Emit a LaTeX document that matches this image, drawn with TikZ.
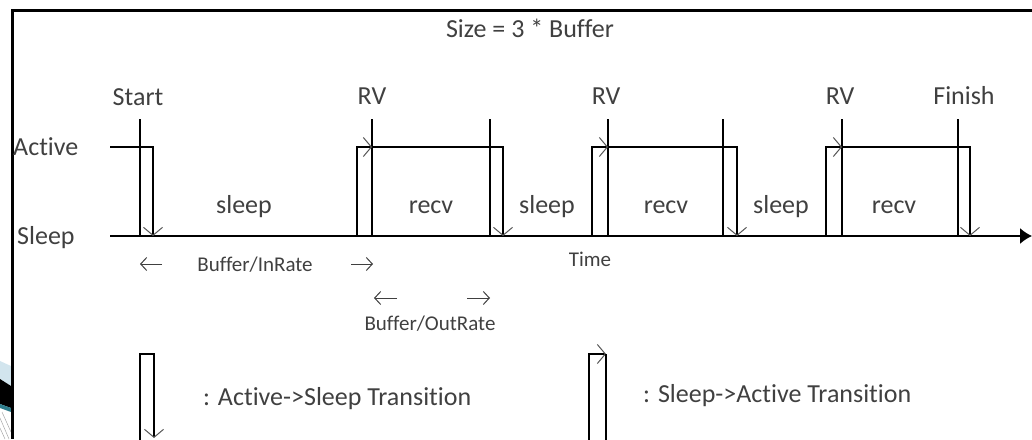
\documentclass[tikz,border=0pt]{standalone}
\usepackage{fontspec}
\setmainfont[Ligatures={NoCommon}]{Carlito}
\usetikzlibrary{arrows.meta}
\definecolor{txt}{HTML}{404040}
\definecolor{barb}{HTML}{555555}
\definecolor{decoblue}{HTML}{D2E5EE}
\definecolor{decoteal}{HTML}{2E7D8C}
\tikzset{
  wave/.style={line width=1.5pt, black},
  tip/.style={-{Straight Barb[length=8pt,width=19pt,line width=1pt,color=barb]}},
  marker/.style={line width=1.5pt, black},
  lab/.style={text=txt, font=\fontsize{26}{30}\selectfont, inner sep=0pt, anchor=base},
  small/.style={text=txt, font=\fontsize{21}{25}\selectfont, inner sep=0pt, anchor=base},
  durarrow/.style={draw=txt, line width=1pt, -{Straight Barb[length=6pt,width=13pt,line width=1pt]}},
}
\begin{document}
\begin{tikzpicture}[x=1pt,y=-1pt]
\useasboundingbox (0,0) rectangle (1032,439);
% decoration at bottom-left
\fill[decoblue] (0,361) -- (11,366) -- (11,386) -- (0,379) -- cycle;
\fill[black] (0,379) -- (11,386) -- (11,408) -- (0,404) -- cycle;
\fill[decoteal] (0,404) -- (11,408) -- (11,412) -- (0,408) -- cycle;
\draw[gray!70, line width=0.5pt] (0,418) -- (9,439) (2,412) -- (11,432) (0,428) -- (5,439);
% frame
\draw[line width=3pt] (1032,10) -- (12,10) -- (12,439);
% title
\node[lab] (title) at (530,37) {Size = 3 * Buffer};
% level labels
\node[lab, anchor=base west] (active) at (13,155) {Active};
\node[lab, anchor=base west] (sleepL) at (17,244) {Sleep};
% event labels
\node[lab] (start) at (138,105) {Start};
\node[lab] (rv1) at (372,104) {RV};
\node[lab] (rv2) at (606,104) {RV};
\node[lab] (rv3) at (840,104) {RV};
\node[lab] (finish) at (964,104) {Finish};
% state labels
\node[lab] (s1) at (244,213) {sleep};
\node[lab] (r1) at (431,213) {recv};
\node[lab] (s2) at (547,213) {sleep};
\node[lab] (r2) at (666,213) {recv};
\node[lab] (s3) at (781,213) {sleep};
\node[lab] (r3) at (894,213) {recv};
% coordinates
\coordinate (ax0) at (110,236);
\coordinate (ax1) at (1032,236);
\coordinate (a0) at (110,147);
\coordinate (st) at (140,119);
\coordinate (stb) at (140,236);
\coordinate (d0t) at (153,147);
\coordinate (d0b) at (153,236);
% time axis
\draw[line width=1.5pt, -{Latex[length=12pt,width=16pt]}] (ax0) -- (ax1);
% start
\draw[marker] (st) -- (stb);
\draw[wave, tip] (a0) -- (d0t) -- (d0b);
% blocks
\foreach \L/\R/\E/\D/\n in {357/372/490/503/1, 592/608/723/737/2, 826/842/958/970/3}{
  \coordinate (l\n b) at (\L,236);
  \coordinate (l\n t) at (\L,147);
  \coordinate (rv\n t) at (\R,119);
  \coordinate (rv\n m) at (\R,147);
  \coordinate (rv\n b) at (\R,236);
  \coordinate (e\n t) at (\E,119);
  \coordinate (e\n b) at (\E,236);
  \coordinate (d\n t) at (\D,147);
  \coordinate (d\n b) at (\D,236);
  \draw[marker] (rv\n t) -- (rv\n b);
  \draw[marker] (e\n t) -- (e\n b);
  \draw[wave, tip] (l\n b) -- (l\n t) -- (rv\n m);
  \draw[wave, tip] (rv\n m) -- (d\n t) -- (d\n b);
}
% time label
\node[small] (time) at (590,266) {Time};
% durations
\coordinate (la1s) at (162,264);
\coordinate (la1e) at (140,264);
\coordinate (ra1s) at (351,264);
\coordinate (ra1e) at (373,264);
\coordinate (la2s) at (397,298);
\coordinate (la2e) at (374,298);
\coordinate (ra2s) at (467,298);
\coordinate (ra2e) at (490,298);
\draw[durarrow] (la1s) -- (la1e);
\draw[durarrow] (ra1s) -- (ra1e);
\draw[durarrow] (la2s) -- (la2e);
\draw[durarrow] (ra2s) -- (ra2e);
\node[small] (inrate) at (255,271) {Buffer/InRate};
\node[small] (outrate) at (430,330) {Buffer/OutRate};
% legend
\coordinate (g1a) at (140,440);
\coordinate (g1b) at (140,354);
\coordinate (g1c) at (154,354);
\coordinate (g1d) at (154,438);
\draw[wave, tip] (g1a) -- (g1b) -- (g1c) -- (g1d);
\node[lab, anchor=base west] (leg1) at (203,405) {: Active->Sleep Transition};
\coordinate (g2a) at (589,440);
\coordinate (g2b) at (589,354);
\coordinate (g2c) at (606,354);
\coordinate (g2d) at (606,440);
\draw[wave, tip] (g2a) -- (g2b) -- (g2c);
\draw[wave] (g2c) -- (g2d);
\node[lab, anchor=base west] (leg2) at (643,402) {: Sleep->Active Transition};
\end{tikzpicture}
\end{document}
